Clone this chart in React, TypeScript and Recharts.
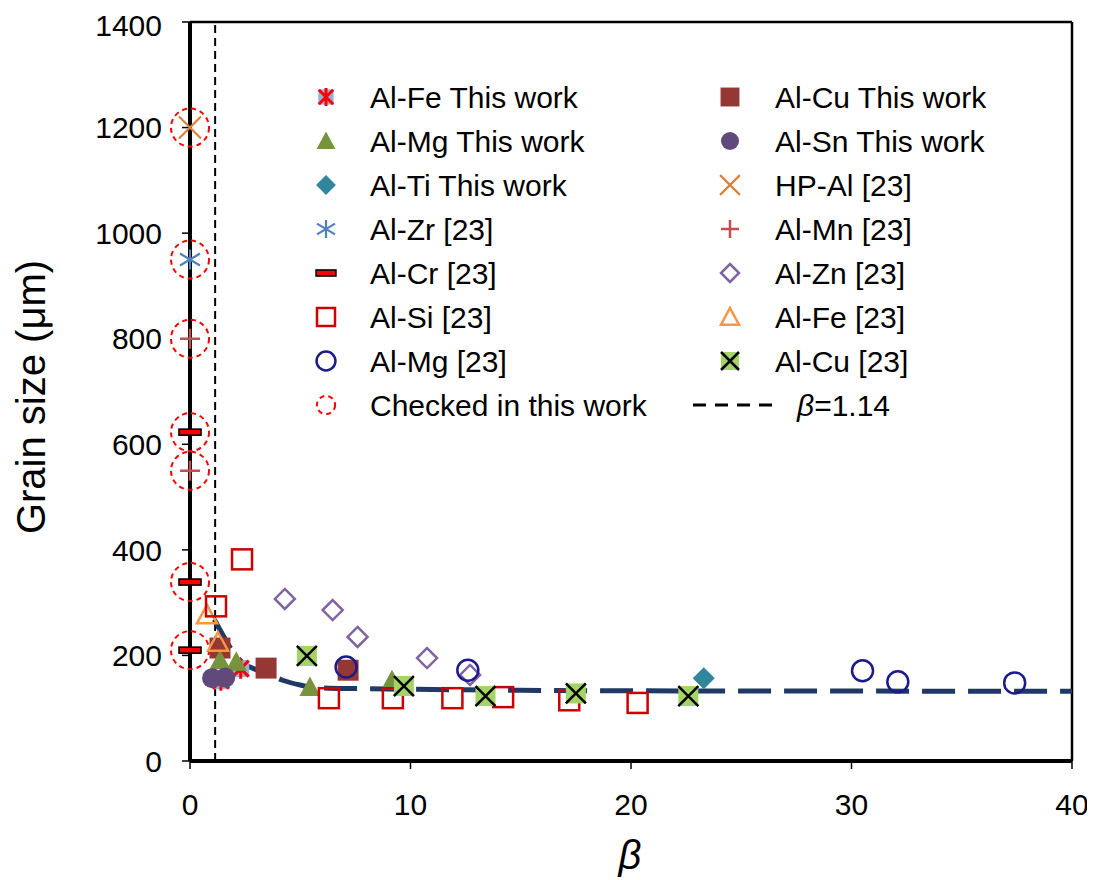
import React from 'react';
import { ComposedChart, Scatter, Line, XAxis, YAxis, ReferenceLine, Customized } from 'recharts';

type Pt = { b: number; g: number };

// β values and grain sizes (μm) per alloy series
const alFeThisWork: Pt[] = [{ b: 1.4, g: 152 }, { b: 2.3, g: 175 }];
const alMgThisWork: Pt[] = [{ b: 1.36, g: 191 }, { b: 2.1, g: 188 }, { b: 5.44, g: 140 }, { b: 9.16, g: 153 }];
const alTiThisWork: Pt[] = [{ b: 23.3, g: 157 }];
const alCuThisWork: Pt[] = [{ b: 1.36, g: 214 }, { b: 3.45, g: 176 }, { b: 7.17, g: 172 }];
const alSnThisWork: Pt[] = [{ b: 1.0, g: 157 }, { b: 1.6, g: 158 }];
const hpAl23: Pt[] = [{ b: 0, g: 1200 }];
const alZr23: Pt[] = [{ b: 0, g: 950 }];
const alMn23: Pt[] = [{ b: 0, g: 800 }, { b: 0, g: 550 }];
const alCr23: Pt[] = [{ b: 0, g: 623 }, { b: 0, g: 339 }, { b: 0, g: 210 }];
const alZn23: Pt[] = [{ b: 4.3, g: 307 }, { b: 6.47, g: 286 }, { b: 7.6, g: 235 }, { b: 10.75, g: 195 }, { b: 12.7, g: 163 }];
const alFe23: Pt[] = [{ b: 0.77, g: 277 }, { b: 1.27, g: 225 }];
const alSi23: Pt[] = [
  { b: 2.36, g: 382 }, { b: 1.18, g: 293 }, { b: 6.3, g: 119 }, { b: 9.2, g: 119 },
  { b: 11.9, g: 119 }, { b: 14.2, g: 121 }, { b: 17.2, g: 115 }, { b: 20.3, g: 110 },
];
const alMg23: Pt[] = [{ b: 7.08, g: 178 }, { b: 12.6, g: 172 }, { b: 30.5, g: 171 }, { b: 32.1, g: 150 }, { b: 37.4, g: 148 }];
const alCu23: Pt[] = [{ b: 5.3, g: 199 }, { b: 9.7, g: 142 }, { b: 13.4, g: 123 }, { b: 17.5, g: 128 }, { b: 22.6, g: 123 }];
const checked: Pt[] = [
  { b: 0, g: 1200 }, { b: 0, g: 950 }, { b: 0, g: 800 }, { b: 0, g: 623 },
  { b: 0, g: 550 }, { b: 0, g: 339 }, { b: 0, g: 210 },
];
// fitted trend of grain size against β
const trend: Pt[] = [
  { b: 1.1, g: 268 }, { b: 1.5, g: 238 }, { b: 1.9, g: 210 }, { b: 2.4, g: 186 },
  { b: 3, g: 173 }, { b: 3.6, g: 164 }, { b: 4.2, g: 153 }, { b: 5, g: 144 },
  { b: 5.5, g: 140 }, { b: 6.3, g: 138 }, { b: 8, g: 137 }, { b: 10, g: 136 },
  { b: 15, g: 134 }, { b: 20, g: 133 }, { b: 30, g: 132.5 }, { b: 40, g: 132 },
];
const betaCritical = 1.14;

const xTicks = [0, 10, 20, 30, 40];
const yTicks = [0, 200, 400, 600, 800, 1000, 1200, 1400];

const FONT = "'Liberation Sans', Arial, sans-serif";

type Kind =
  | 'alFeThis' | 'alMgThis' | 'alTiThis' | 'alZr' | 'alCr' | 'alSi' | 'alMg23' | 'checked'
  | 'alCuThis' | 'alSnThis' | 'hpAl' | 'alMn' | 'alZn' | 'alFe23' | 'alCu23';

function Mark({ kind, cx, cy, k = 1 }: { kind: Kind; cx: number; cy: number; k?: number }) {
  const s = 20 * k;
  const h = s / 2;
  switch (kind) {
    case 'alFeThis':
      return (
        <g>
          <rect x={cx - h * 0.85} y={cy - h * 0.85} width={s * 0.85} height={s * 0.85} fill="#95B3D7" />
          <path
            d={`M${cx},${cy - h}V${cy + h}M${cx - h * 0.8},${cy - h * 0.8}L${cx + h * 0.8},${cy + h * 0.8}M${cx + h * 0.8},${cy - h * 0.8}L${cx - h * 0.8},${cy + h * 0.8}`}
            stroke="#FF0000"
            strokeWidth={3}
          />
        </g>
      );
    case 'alMgThis':
      return <path d={`M${cx},${cy - h * 1.05}L${cx + h * 1.05},${cy + h * 0.9}L${cx - h * 1.05},${cy + h * 0.9}Z`} fill="#77933C" />;
    case 'alTiThis':
      return <path d={`M${cx},${cy - h * 1.1}L${cx + h * 1.1},${cy}L${cx},${cy + h * 1.1}L${cx - h * 1.1},${cy}Z`} fill="#31859C" />;
    case 'alZr':
      return (
        <path
          d={`M${cx},${cy - h}V${cy + h}M${cx - h},${cy - h * 0.6}L${cx + h},${cy + h * 0.6}M${cx + h},${cy - h * 0.6}L${cx - h},${cy + h * 0.6}`}
          stroke="#4F81BD"
          strokeWidth={2.2}
          fill="none"
        />
      );
    case 'alCr':
      return <rect x={cx - h * 1.1} y={cy - 3} width={s * 1.1} height={6} fill="#FF0000" stroke="#000" strokeWidth={1.6} />;
    case 'alSi':
      return <rect x={cx - h} y={cy - h} width={s} height={s} fill="none" stroke="#CC0000" strokeWidth={2.5} />;
    case 'alMg23':
      return <circle cx={cx} cy={cy} r={h * 1.05} fill="none" stroke="#1B1B8A" strokeWidth={2.5} />;
    case 'checked':
      return <circle cx={cx} cy={cy} r={19 * k} fill="none" stroke="#FF0000" strokeWidth={2} strokeDasharray="5 4" />;
    case 'alCuThis':
      return <rect x={cx - h * 1.05} y={cy - h * 1.05} width={s * 1.05} height={s * 1.05} fill="#953735" />;
    case 'alSnThis':
      return <circle cx={cx} cy={cy} r={h} fill="#604A7B" />;
    case 'hpAl':
      return (
        <path
          d={`M${cx - h * 1.1},${cy - h * 1.1}L${cx + h * 1.1},${cy + h * 1.1}M${cx + h * 1.1},${cy - h * 1.1}L${cx - h * 1.1},${cy + h * 1.1}`}
          stroke="#D9823B"
          strokeWidth={2.2}
        />
      );
    case 'alMn':
      return <path d={`M${cx},${cy - h}V${cy + h}M${cx - h},${cy}H${cx + h}`} stroke="#C0504D" strokeWidth={2.5} />;
    case 'alZn':
      return <path d={`M${cx},${cy - h}L${cx + h},${cy}L${cx},${cy + h}L${cx - h},${cy}Z`} fill="none" stroke="#8064A2" strokeWidth={2.5} />;
    case 'alFe23':
      return <path d={`M${cx},${cy - h}L${cx + h},${cy + h * 0.85}L${cx - h},${cy + h * 0.85}Z`} fill="none" stroke="#F79646" strokeWidth={2.5} />;
    case 'alCu23':
      return (
        <g>
          <rect x={cx - h} y={cy - h} width={s} height={s} fill="#A4D468" />
          <path d={`M${cx - h},${cy - h}L${cx + h},${cy + h}M${cx + h},${cy - h}L${cx - h},${cy + h}`} stroke="#000" strokeWidth={2.5} />
        </g>
      );
    default:
      return null;
  }
}

const shapeOf = (kind: Kind) => (p: any) => <Mark kind={kind} cx={p.cx} cy={p.cy} />;

const legendLeft: { kind: Kind; label: string }[] = [
  { kind: 'alFeThis', label: 'Al-Fe This work' },
  { kind: 'alMgThis', label: 'Al-Mg This work' },
  { kind: 'alTiThis', label: 'Al-Ti This work' },
  { kind: 'alZr', label: 'Al-Zr [23]' },
  { kind: 'alCr', label: 'Al-Cr [23]' },
  { kind: 'alSi', label: 'Al-Si [23]' },
  { kind: 'alMg23', label: 'Al-Mg [23]' },
  { kind: 'checked', label: 'Checked in this work' },
];
const legendRight: { kind: Kind; label: string }[] = [
  { kind: 'alCuThis', label: 'Al-Cu This work' },
  { kind: 'alSnThis', label: 'Al-Sn This work' },
  { kind: 'hpAl', label: 'HP-Al [23]' },
  { kind: 'alMn', label: 'Al-Mn [23]' },
  { kind: 'alZn', label: 'Al-Zn [23]' },
  { kind: 'alFe23', label: 'Al-Fe [23]' },
  { kind: 'alCu23', label: 'Al-Cu [23]' },
];

const rowY = [89, 133, 177, 221, 265, 309, 353, 397];

function Decorations() {
  return (
    <g fontFamily={FONT}>
      {legendLeft.map((item, i) => (
        <g key={item.label}>
          <Mark kind={item.kind} cx={318} cy={rowY[i]} k={item.kind === 'checked' ? 0.48 : 0.9} />
          <text x={362} y={rowY[i]} fontSize={30} dominantBaseline="central" fill="#000">{item.label}</text>
        </g>
      ))}
      {legendRight.map((item, i) => (
        <g key={item.label}>
          <Mark kind={item.kind} cx={722} cy={rowY[i]} k={0.9} />
          <text x={767} y={rowY[i]} fontSize={30} dominantBaseline="central" fill="#000">{item.label}</text>
        </g>
      ))}
      <line x1={685} x2={764} y1={rowY[7]} y2={rowY[7]} stroke="#000" strokeWidth={3} strokeDasharray="13 9" />
      <text x={789} y={rowY[7]} fontSize={30} dominantBaseline="central" fill="#000">
        <tspan fontStyle="italic">β</tspan>=1.14
      </text>
      <text
        x={23}
        y={389}
        fontSize={40}
        textAnchor="middle"
        dominantBaseline="central"
        transform="rotate(-90 23 389)"
        fill="#000"
      >
        Grain size (μm)
      </text>
      <text x={622} y={847} fontSize={40} fontStyle="italic" textAnchor="middle" dominantBaseline="central" fill="#000">
        β
      </text>
    </g>
  );
}

const series: { name: string; data: Pt[]; kind: Kind }[] = [
  { name: 'Checked in this work', data: checked, kind: 'checked' },
  { name: 'Al-Fe This work', data: alFeThisWork, kind: 'alFeThis' },
  { name: 'Al-Cu This work', data: alCuThisWork, kind: 'alCuThis' },
  { name: 'Al-Mg This work', data: alMgThisWork, kind: 'alMgThis' },
  { name: 'Al-Sn This work', data: alSnThisWork, kind: 'alSnThis' },
  { name: 'Al-Ti This work', data: alTiThisWork, kind: 'alTiThis' },
  { name: 'HP-Al [23]', data: hpAl23, kind: 'hpAl' },
  { name: 'Al-Zr [23]', data: alZr23, kind: 'alZr' },
  { name: 'Al-Mn [23]', data: alMn23, kind: 'alMn' },
  { name: 'Al-Cr [23]', data: alCr23, kind: 'alCr' },
  { name: 'Al-Zn [23]', data: alZn23, kind: 'alZn' },
  { name: 'Al-Fe [23]', data: alFe23, kind: 'alFe23' },
  { name: 'Al-Si [23]', data: alSi23, kind: 'alSi' },
  { name: 'Al-Mg [23]', data: alMg23, kind: 'alMg23' },
  { name: 'Al-Cu [23]', data: alCu23, kind: 'alCu23' },
];

export default function App() {
  const tickStyle = { fill: '#000', fontSize: 30, fontFamily: FONT };
  return (
    <div style={{ width: 1087, height: 872, background: '#fff' }}>
      <ComposedChart width={1087} height={872} margin={{ top: 14, right: 23, bottom: 59, left: 82 }}>
        <XAxis
          type="number"
          dataKey="b"
          domain={[0, 40]}
          ticks={xTicks}
          axisLine={{ stroke: '#000', strokeWidth: 4 }}
          tickLine={{ stroke: '#000', strokeWidth: 1.5 }}
          tickSize={8}
          tickMargin={25}
          tick={tickStyle}
          height={60}
        />
        <YAxis
          type="number"
          dataKey="g"
          domain={[0, 1400]}
          ticks={yTicks}
          axisLine={{ stroke: '#000', strokeWidth: 4 }}
          tickLine={{ stroke: '#000', strokeWidth: 1.5 }}
          tickSize={8}
          tickMargin={20}
          tick={tickStyle}
          width={100}
        />
        <ReferenceLine y={1400} stroke="#000" strokeWidth={2.5} />
        <ReferenceLine x={40} stroke="#000" strokeWidth={2.5} />
        <ReferenceLine x={betaCritical} stroke="#000" strokeWidth={2} strokeDasharray="8 5" />
        {series.map((s) => (
          <Scatter key={s.name} name={s.name} data={s.data} shape={shapeOf(s.kind)} isAnimationActive={false} />
        ))}
        <Line
          data={trend}
          dataKey="g"
          type="monotone"
          stroke="#1F3864"
          strokeWidth={5}
          strokeDasharray="33 13"
          dot={false}
          activeDot={false}
          isAnimationActive={false}
        />
        <Customized component={Decorations} />
      </ComposedChart>
    </div>
  );
}
